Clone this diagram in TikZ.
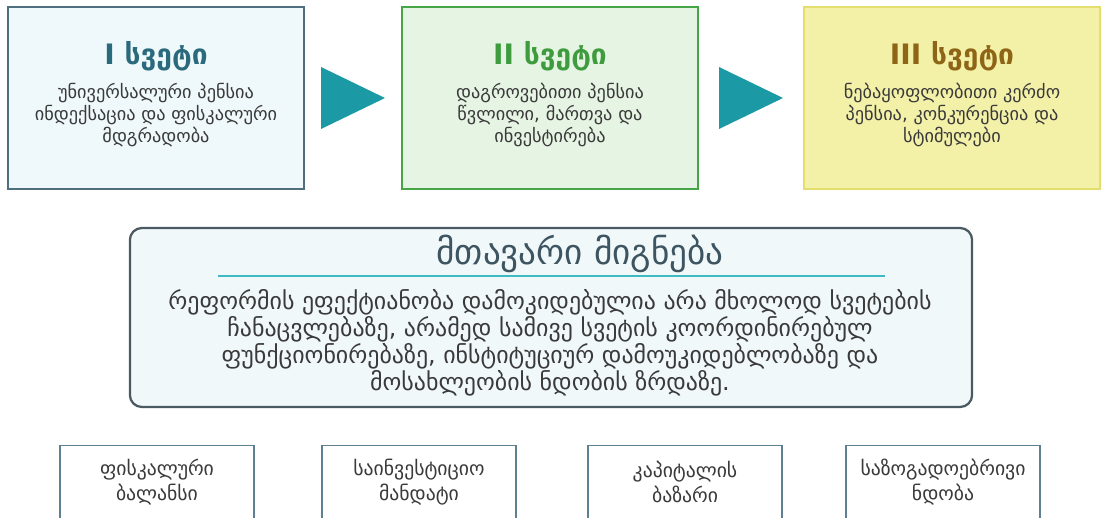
\documentclass[tikz,border=0pt]{standalone}
\usepackage{fontspec}
\setmainfont{DejaVu Sans}
\usepackage{tikz}
\usetikzlibrary{positioning, calc}

\definecolor{pillarone}{HTML}{EFF8FB}
\definecolor{pillaroneline}{HTML}{4F6F7F}
\definecolor{titleone}{HTML}{2B6A7C}
\definecolor{pillartwo}{HTML}{E6F4E3}
\definecolor{pillartwoline}{HTML}{45A547}
\definecolor{titletwo}{HTML}{3E9B3E}
\definecolor{pillarthree}{HTML}{F3F0A8}
\definecolor{pillarthreeline}{HTML}{E3DE6E}
\definecolor{titlethree}{HTML}{8E6416}
\definecolor{arrowteal}{HTML}{1B9AA6}
\definecolor{findingfill}{HTML}{F1F8FA}
\definecolor{findingline}{HTML}{4B5A62}
\definecolor{findingtitle}{HTML}{3D5561}
\definecolor{rulecolor}{HTML}{3FBAC2}
\definecolor{factorline}{HTML}{5F8090}
\definecolor{bodytext}{HTML}{3A3A3A}

\begin{document}
\begin{tikzpicture}[x=0.025cm, y=-0.025cm,
    pillar/.style={draw, line width=1.1pt, minimum width=7.4cm, minimum height=4.55cm},
    pillartitle/.style={font=\fontsize{20}{24}\selectfont\bfseries},
    pillartext/.style={align=center, text=bodytext, font=\fontsize{13}{15.6}\selectfont},
    arrowhead/.style={fill=arrowteal},
    factor/.style={draw=factorline, line width=0.9pt, fill=white, minimum width=4.85cm, minimum height=2.5cm, anchor=north},
    factortext/.style={align=center, text=bodytext, font=\fontsize{14}{17.5}\selectfont}]
    \useasboundingbox (0,0) rectangle (1107,518);
    \clip (0,0) rectangle (1107,518);
    \fill[white] (0,0) rectangle (1107,518);

    % Drawing the three pillars
    \node[pillar, draw=pillaroneline, fill=pillarone] (p1) at (156,98) {};
    \node[pillar, draw=pillartwoline, fill=pillartwo] (p2) at (550,98) {};
    \node[pillar, draw=pillarthreeline, fill=pillarthree] (p3) at (952,98) {};

    \node[pillartitle, text=titleone] (t1) at ($(p1.center)+(0,-42)$) {I სვეტი};
    \node[pillartitle, text=titletwo] (t2) at ($(p2.center)+(0,-42)$) {II სვეტი};
    \node[pillartitle, text=titlethree] (t3) at ($(p3.center)+(0,-42)$) {III სვეტი};

    \node[pillartext] (b1) at ($(p1.center)+(0,17)$) {უნივერსალური პენსია\\ინდექსაცია და ფისკალური\\მდგრადობა};
    \node[pillartext] (b2) at ($(p2.center)+(0,17)$) {დაგროვებითი პენსია\\წვლილი, მართვა და\\ინვესტირება};
    \node[pillartext] (b3) at ($(p3.center)+(0,17)$) {ნებაყოფლობითი კერძო\\პენსია, კონკურენცია და\\სტიმულები};

    % Arrows between the pillars
    \coordinate (a1) at ($(p1.east)!0.5!(p2.west)$);
    \coordinate (a2) at ($(p2.east)!0.5!(p3.west)$);
    \fill[arrowhead] ($(a1)+(-32,-31)$) -- ($(a1)+(32,0)$) -- ($(a1)+(-32,31)$) -- cycle;
    \fill[arrowhead] ($(a2)+(-32,-31)$) -- ($(a2)+(32,0)$) -- ($(a2)+(-32,31)$) -- cycle;

    % Main finding
    \node[draw=findingline, line width=1.6pt, fill=findingfill, rounded corners=0.3cm,
          minimum width=21.05cm, minimum height=4.475cm] (finding) at (551,317.5) {};
    \node[text=findingtitle, font=\fontsize{25}{28}\selectfont] (ftitle) at (580,254) {მთავარი მიგნება};
    \coordinate (rl) at (218,276);
    \coordinate (rr) at (885,276);
    \draw[rulecolor, line width=1.5pt] (rl) -- (rr);
    \node[align=center, text=bodytext, font=\fontsize{17}{17.2}\selectfont] (fbody) at (550,343)
        {რეფორმის ეფექტიანობა დამოკიდებულია არა მხოლოდ სვეტების\\ჩანაცვლებაზე, არამედ სამივე სვეტის კოორდინირებულ\\ფუნქციონირებაზე, ინსტიტუციურ დამოუკიდებლობაზე და\\მოსახლეობის ნდობის ზრდაზე.};

    % Factors along the bottom
    \node[factor] (f1) at (157,445) {};
    \node[factor] (f2) at (419,445) {};
    \node[factor] (f3) at (685,445) {};
    \node[factor] (f4) at (943,445) {};
    \node[factortext] (ft1) at ($(f1.north)+(0,37)$) {ფისკალური\\ბალანსი};
    \node[factortext] (ft2) at ($(f2.north)+(0,37)$) {საინვესტიციო\\მანდატი};
    \node[factortext] (ft3) at ($(f3.north)+(0,37)$) {კაპიტალის\\ბაზარი};
    \node[factortext] (ft4) at ($(f4.north)+(0,37)$) {საზოგადოებრივი\\ნდობა};
\end{tikzpicture}
\end{document}
